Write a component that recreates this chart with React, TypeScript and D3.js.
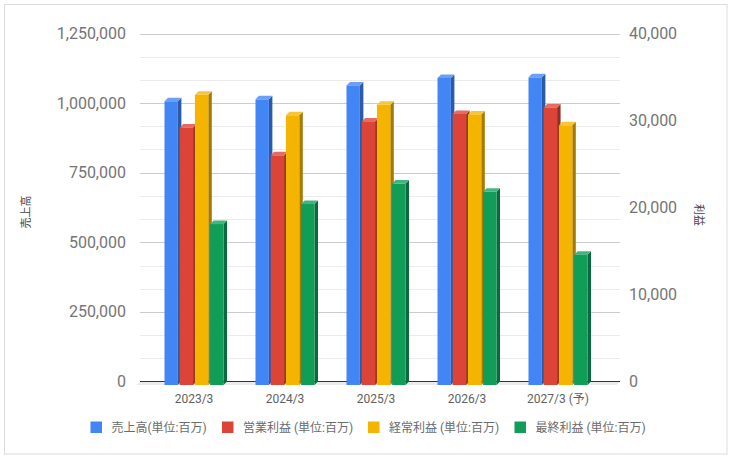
import { scaleBand, scaleLinear, interpolateRgb, color } from "d3";

const categories = ["2023/3", "2024/3", "2025/3", "2026/3", "2027/3 (予)"];
const seriesNames = [
  "売上高(単位:百万)",
  "営業利益 (単位:百万)",
  "経常利益 (単位:百万)",
  "最終利益 (単位:百万)",
];
const seriesColors = ["#4285f4", "#db4437", "#f4b400", "#0f9d58"];

// 売上高 goes on the left axis, the three profit series on the right one
const sales = [1019000, 1026000, 1076000, 1103000, 1105000];
const operatingProfit = [29600, 26400, 30300, 31150, 31900];
const ordinaryProfit = [33350, 31000, 32200, 31100, 29850];
const netProfit = [18500, 20800, 23150, 22200, 14980];

const leftTicks = [0, 250000, 500000, 750000, 1000000, 1250000];
const rightTicks = [0, 10000, 20000, 30000, 40000];

const font = 'Roboto, "Noto Sans CJK JP", Arial, sans-serif';

export default function App() {
  const width = 734;
  const height = 460;
  const backLeft = 140;
  const backRight = 620;
  const base = 381.5;
  const top = 33.5;
  const depth = 3.5;

  const yLeft = scaleLinear().domain([0, 1250000]).range([base, top]);
  const yRight = scaleLinear().domain([0, 40000]).range([base, top]);

  const x0 = scaleBand().domain(categories).range([148.5, 603.5]);
  const x1 = scaleBand()
    .domain(seriesNames)
    .range([-29.5, 29.5])
    .paddingInner(0.12);

  const series = [
    { name: seriesNames[0], values: sales, y: yLeft },
    { name: seriesNames[1], values: operatingProfit, y: yRight },
    { name: seriesNames[2], values: ordinaryProfit, y: yRight },
    { name: seriesNames[3], values: netProfit, y: yRight },
  ];

  // minor lines sit at thirds between the major left ticks
  const minorLines: number[] = [];
  leftTicks.slice(1).forEach((t) => {
    minorLines.push(t - 250000 / 3, t - (250000 * 2) / 3);
  });

  const frontBase = base + depth;
  const legendX = [90.5, 222, 368, 514.5];

  return (
    <svg
      width={width}
      height={height}
      style={{ position: "absolute", top: 0, left: 0, fontFamily: font }}
    >
      <rect x={0} y={0} width={width} height={height} fill="#ffffff" />
      <rect x={4.5} y={4.5} width={722.5} height={449.5} fill="none" stroke="#dcdcdc" />

      {minorLines.map((v) => (
        <line
          key={`m${v}`}
          x1={backLeft}
          x2={backRight}
          y1={Math.round(yLeft(v)) + 0.5}
          y2={Math.round(yLeft(v)) + 0.5}
          stroke="#ebebeb"
        />
      ))}
      {leftTicks.slice(1).map((v) => (
        <line
          key={`g${v}`}
          x1={backLeft}
          x2={backRight}
          y1={Math.round(yLeft(v)) + 0.5}
          y2={Math.round(yLeft(v)) + 0.5}
          stroke="#cccccc"
        />
      ))}

      {/* floor under the baseline */}
      <path
        d={`M ${backLeft} ${base} L ${backRight} ${base} L ${backRight - depth} ${frontBase} L ${backLeft - depth} ${frontBase} Z`}
        fill="#ebebeb"
      />
      <line x1={backLeft} x2={backRight} y1={base} y2={base} stroke="#333333" strokeWidth={1.2} />

      {leftTicks.map((v) => (
        <text
          key={`l${v}`}
          x={126}
          y={yLeft(v) + 5.5}
          textAnchor="end"
          fontSize={16}
          fill="#757575"
        >
          {v.toLocaleString("en-US")}
        </text>
      ))}
      {rightTicks.map((v) => (
        <text
          key={`r${v}`}
          x={629}
          y={yRight(v) + 5.5}
          textAnchor="start"
          fontSize={16}
          fill="#757575"
        >
          {v.toLocaleString("en-US")}
        </text>
      ))}

      {categories.map((cat, i) => {
        const cx = (x0(cat) ?? 0) + x0.bandwidth() / 2;
        return (
          <g key={cat}>
            {series.map((s, j) => {
              const c = seriesColors[j];
              const bx = cx + (x1(s.name) ?? 0);
              const bw = x1.bandwidth();
              const h = base - s.y(s.values[i]);
              const ty = frontBase - h;
              const side = color(c)?.darker(1.1).formatHex() ?? c;
              const lid = interpolateRgb(c, "#ffffff")(0.22);
              return (
                <g key={s.name}>
                  <path
                    d={`M ${bx + bw} ${ty} L ${bx + bw + depth} ${ty - depth} L ${bx + bw + depth} ${frontBase - depth} L ${bx + bw} ${frontBase} Z`}
                    fill={side}
                  />
                  <path
                    d={`M ${bx} ${ty} L ${bx + depth} ${ty - depth} L ${bx + bw + depth} ${ty - depth} L ${bx + bw} ${ty} Z`}
                    fill={lid}
                  />
                  <rect x={bx} y={ty} width={bw} height={h} fill={c} />
                </g>
              );
            })}
            <text x={cx} y={403} textAnchor="middle" fontSize={12} fill="#616161">
              {cat}
            </text>
          </g>
        );
      })}

      <text
        transform="translate(30,212) rotate(-90)"
        textAnchor="middle"
        fontSize={11}
        fill="#444444"
      >
        売上高
      </text>
      <text
        transform="translate(695,215) rotate(90)"
        textAnchor="middle"
        fontSize={11}
        fill="#444444"
      >
        利益
      </text>

      {legendX.map((lx, j) => (
        <g key={seriesNames[j]}>
          <rect x={lx} y={421.5} width={11.5} height={11.5} fill={seriesColors[j]} />
          <text x={lx + 21} y={431.5} fontSize={12} fill="#6b6b6b">
            {seriesNames[j]}
          </text>
        </g>
      ))}
    </svg>
  );
}
